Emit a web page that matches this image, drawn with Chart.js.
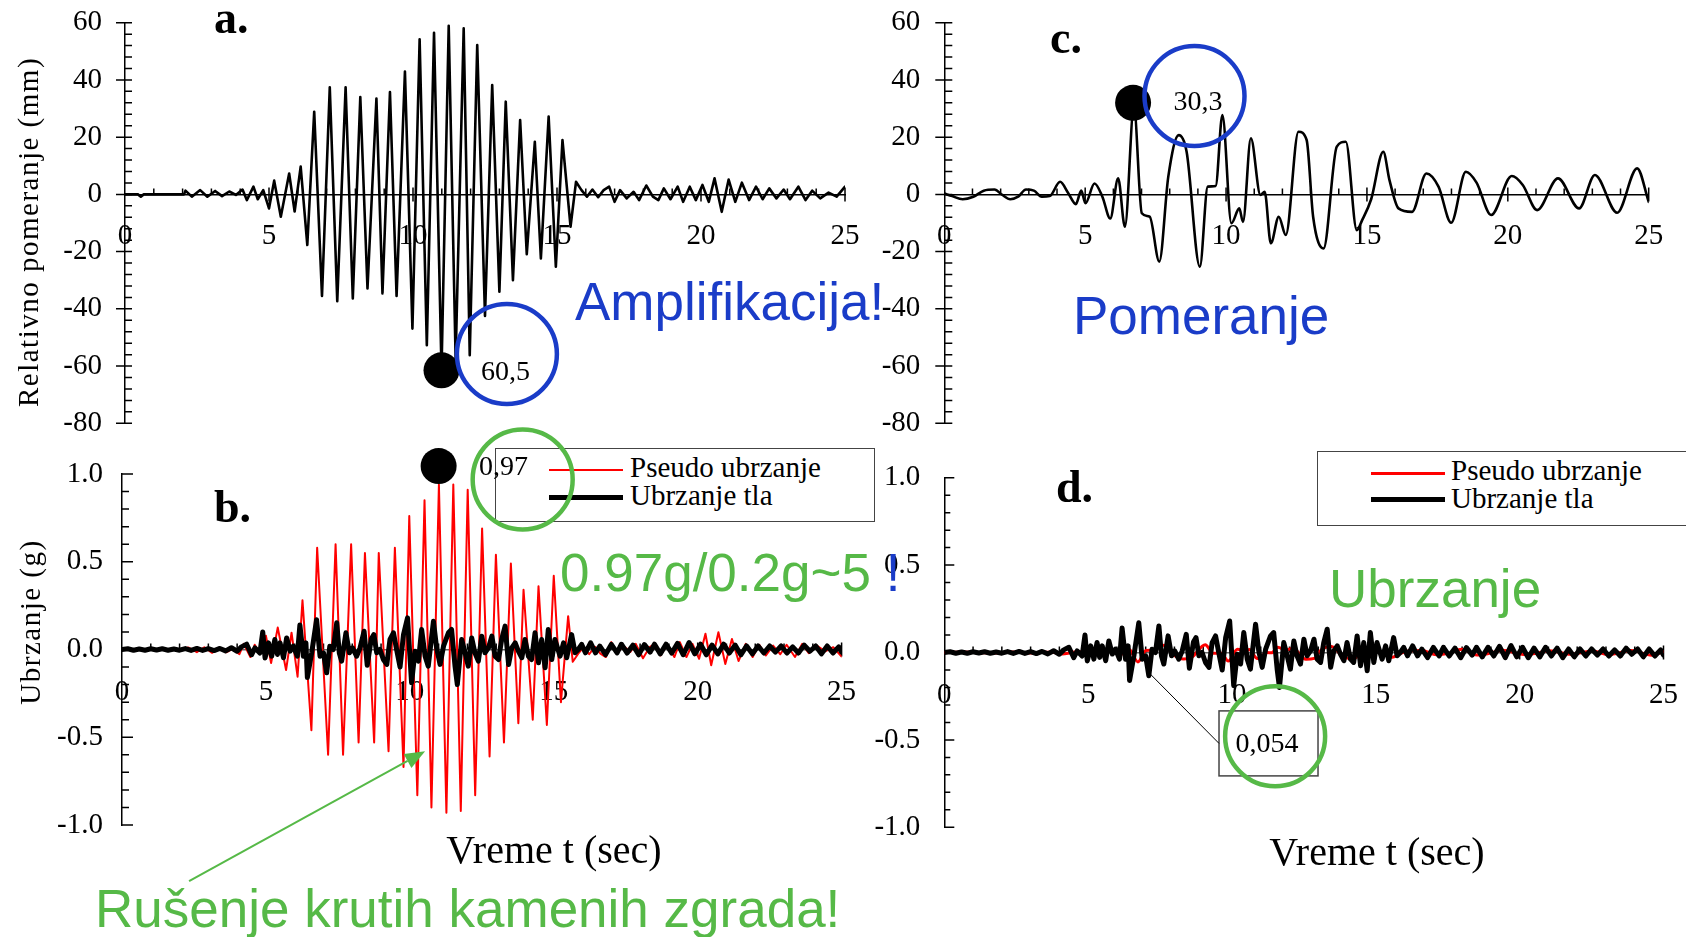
<!DOCTYPE html>
<html><head><meta charset="utf-8">
<script src="https://cdn.jsdelivr.net/npm/chart.js@4.4.1/dist/chart.umd.min.js"></script>
<style>
html,body{margin:0;padding:0;background:#fff;}
body{width:1686px;height:937px;overflow:hidden;position:relative;}
canvas{position:absolute;left:0;top:0;}
.t{position:absolute;white-space:nowrap;line-height:1;}
.serif{font-family:"Liberation Serif","Times New Roman",serif;color:#000;}
.sans{font-family:"Liberation Sans",Arial,sans-serif;font-size:53px;}
.blue{color:#1a3cc8;}
.green{color:#56b947;}
.bold{font-weight:bold;font-size:46px;}
.lab{font-size:28px;transform:translateX(-50%);}
.leg{font-size:29px;}
.box{position:absolute;border:1.5px solid #444;box-sizing:border-box;}
.ln{position:absolute;}
</style></head><body>

<!-- legends -->
<div class="box" style="left:495px;top:448px;width:380px;height:74px;"></div>
<div class="ln" style="left:549px;top:469px;width:74px;height:2px;background:#ff0000;"></div>
<div class="ln" style="left:549px;top:494.5px;width:74px;height:5px;background:#000;"></div>
<div class="t serif leg" style="left:630px;top:452.7px;">Pseudo ubrzanje</div>
<div class="t serif leg" style="left:630px;top:480.7px;">Ubrzanje tla</div>

<div class="box" style="left:1317px;top:451px;width:400px;height:75px;"></div>
<div class="ln" style="left:1371px;top:471.5px;width:74px;height:3px;background:#ff0000;"></div>
<div class="ln" style="left:1371px;top:496.5px;width:74px;height:5px;background:#000;"></div>
<div class="t serif leg" style="left:1451px;top:455.7px;">Pseudo ubrzanje</div>
<div class="t serif leg" style="left:1451px;top:483.7px;">Ubrzanje tla</div>

<canvas id="ca" width="1686" height="937"></canvas>
<canvas id="cb" width="1686" height="937"></canvas>
<canvas id="cc" width="1686" height="937"></canvas>
<canvas id="cd" width="1686" height="937"></canvas>

<!-- texts -->
<div class="t serif bold" style="left:214px;top:-5.5px;">a.</div>
<div class="t serif bold" style="left:214px;top:483.5px;">b.</div>
<div class="t serif bold" style="left:1050px;top:14.5px;">c.</div>
<div class="t serif bold" style="left:1056px;top:463.5px;">d.</div>

<div class="t serif" style="left:28px;top:232px;font-size:29px;letter-spacing:1.5px;transform:translate(-50%,-50%) rotate(-90deg);">Relativno pomeranje (mm)</div>
<div class="t serif" style="left:30px;top:622px;font-size:29px;letter-spacing:1.5px;transform:translate(-50%,-50%) rotate(-90deg);">Ubrzanje (g)</div>
<div class="t serif" style="left:554px;top:829.5px;font-size:40px;transform:translateX(-50%);">Vreme t (sec)</div>
<div class="t serif" style="left:1377px;top:831.5px;font-size:40px;transform:translateX(-50%);">Vreme t (sec)</div>

<div class="t serif lab" style="left:505.5px;top:356.5px;">60,5</div>
<div class="t serif lab" style="left:1198px;top:86.5px;">30,3</div>
<div class="t serif lab" style="left:503.5px;top:451.5px;">0,97</div>
<div class="t serif lab" style="left:1267px;top:728.5px;">0,054</div>

<div class="t sans blue" style="left:575px;top:275px;">Amplifikacija!</div>
<div class="t sans blue" style="left:1073px;top:289px;">Pomeranje</div>
<div class="t sans" style="left:560px;top:546px;"><span class="green">0.97g/0.2g~5</span><span class="blue"> !</span></div>
<div class="t sans green" style="left:1329px;top:562px;">Ubrzanje</div>
<div class="t sans green" style="left:95px;top:882px;">Rušenje krutih kamenih zgrada!</div>

<script>
// ---------------- DATA ----------------
const xTickVals = [0, 5, 10, 15, 20, 25];
const yTicksDisp = [60, 40, 20, 0, -20, -40, -60, -80];
const yTicksAcc = [1.0, 0.5, 0.0, -0.5, -1.0];

// a. relative displacement (mm), stiff system
const tA = [0,0.45,0.55,0.65,2.05,2.1,2.32,2.61,2.86,3.13,3.37,3.62,3.85,4.08,4.23,4.46,4.61,4.8,5.0,5.18,5.41,5.70,5.89,6.10,6.33,6.57,6.84,7.11,7.37,7.66,7.91,8.17,8.42,8.73,8.94,9.20,9.43,9.72,9.98,10.23,10.48,10.73,10.99,11.24,11.48,11.76,11.97,12.23,12.50,12.75,13.0,13.22,13.47,13.72,13.95,14.23,14.44,14.71,14.96,15.19,15.47,15.66,15.85,16.04,16.23,16.43,16.62,16.81,17.0,17.19,17.42,17.66,17.85,18.1,18.33,18.52,18.71,18.94,19.19,19.38,19.61,19.82,20.05,20.27,20.47,20.72,20.96,21.19,21.42,21.67,21.91,22.14,22.37,22.62,22.87,23.09,23.38,23.63,23.86,24.14,24.43,24.71,25];
const dispA = [0,0,-0.8,0,0,1.3,-0.8,1.5,-0.8,1.2,-0.6,1.0,-0.2,1.7,-2.0,2.7,-1.7,1.5,-4.9,4.8,-7.8,7.3,-6.0,9.7,-17.7,28.9,-35.5,37.4,-37.3,37.4,-36.4,34.0,-32.9,33.5,-34.6,35.8,-35.5,42.9,-46.9,54.2,-52.7,56.5,-61.5,58.9,-57.5,58.0,-56.2,52.2,-42.5,38.2,-34.0,32.4,-30.0,26.0,-20.9,18.4,-22.4,27.2,-25.3,19.0,-11.3,4.4,1.5,-0.8,1.7,-1.0,1.5,2.7,-2.6,1.5,-1.4,0.9,-2.0,3.1,-0.8,-2.0,2.1,-1.7,2.7,-2.6,2.7,-2.0,3.3,-2.6,5.6,-6.1,5.2,-2.6,4.1,-2.0,2.7,-1.7,2.1,-1.4,1.7,-1.7,2.7,-2.0,1.3,-1.4,0.6,-0.8,2.7];
const peakA_t = [10.99], peakA_v = [-61.5];

// c. relative displacement (mm), flexible system
const tC = [0,0.28,0.65,1.03,1.4,1.78,2.06,2.34,2.62,2.9,3.18,3.46,3.74,4.11,4.39,4.67,4.86,5.01,5.33,5.61,5.89,6.17,6.41,6.73,7.01,7.29,7.63,7.95,8.32,8.6,9.07,9.35,9.63,9.87,10.19,10.47,10.6,10.88,11.22,11.37,11.59,11.87,12.12,12.57,12.86,13.09,13.46,13.93,14.25,14.64,14.83,15.15,15.58,15.8,16.12,16.6,17.11,17.54,17.99,18.51,18.89,19.41,20.14,20.53,21.04,21.78,22.53,23.09,23.88,24.59,25];
const dispC = [0.3,-0.6,-1.7,-0.8,1.3,1.7,-0.2,-1.7,-0.8,1.7,1.3,-0.8,-0.6,4.4,0.6,-3.4,1.3,-3.1,3.8,-0.8,-8.4,5.6,-11.3,30.6,-6.6,-7.8,-23.5,6.2,20.7,14.9,-25.3,2.7,2.9,27.7,-10.1,-4.9,-9.6,19.6,-0.2,0.9,-17.1,-7.8,-14.2,21.9,19,-7.8,-18.9,16.7,18.4,-12.5,-9,-1.7,14.9,5,-4.9,-6.1,7.3,2.7,-9.9,7.9,4.1,-7.2,6.4,3.3,-5.5,5.6,-4.9,6.8,-6.4,9.1,-2.6];
const peakC_t = [6.7], peakC_v = [32];

// b. pseudo acceleration (g), stiff system
const tBr = [0,0.5,1.0,1.5,2.0,2.3,2.6,2.86,3.13,3.37,3.62,3.85,4.08,4.23,4.46,4.61,4.8,5.0,5.18,5.41,5.70,5.89,6.10,6.27,6.58,6.78,7.16,7.42,7.68,7.96,8.22,8.44,8.76,8.92,9.26,9.48,9.78,9.98,10.26,10.51,10.75,11.01,11.27,11.51,11.77,12.01,12.27,12.51,12.77,12.99,13.27,13.51,13.77,13.95,14.27,14.47,14.76,15.0,15.25,15.5,15.66,15.85,16.04,16.23,16.43,16.62,16.81,17.0,17.19,17.42,17.66,17.85,18.1,18.33,18.52,18.71,18.94,19.19,19.38,19.61,19.82,20.05,20.27,20.47,20.72,20.96,21.19,21.42,21.67,21.91,22.14,22.37,22.62,22.87,23.09,23.38,23.63,23.86,24.14,24.43,24.71,25];
const pseudoB = [0,0.002,-0.002,0.003,-0.002,0.012,-0.015,0.013,-0.019,0.01,-0.016,0.003,-0.027,0.032,-0.043,0.027,-0.024,0.078,-0.077,0.125,-0.117,0.096,-0.155,0.28,-0.46,0.58,-0.60,0.60,-0.60,0.60,-0.53,0.55,-0.53,0.55,-0.58,0.58,-0.67,0.76,-0.83,0.85,-0.90,0.94,-0.93,0.94,-0.92,0.91,-0.83,0.69,-0.61,0.54,-0.53,0.49,-0.42,0.34,-0.40,0.36,-0.43,0.42,-0.30,0.19,-0.07,-0.024,0.013,-0.027,0.016,-0.024,-0.043,0.042,-0.024,0.022,-0.014,0.032,-0.05,0.013,0.032,-0.034,0.027,-0.043,0.042,-0.043,0.032,-0.053,0.09,-0.09,0.098,-0.083,0.06,-0.066,0.032,-0.043,0.027,-0.034,0.022,-0.027,0.027,-0.043,0.032,-0.021,0.022,-0.01,0.013,-0.04];
const peakB_t = [11.0], peakB_v = [1.045];

// ground acceleration (g), shared by b. and d.
const tG = [0,0.2,0.4,0.6,0.8,1.0,1.2,1.4,1.6,1.8,2.0,2.2,2.4,2.6,2.8,3.0,3.2,3.4,3.6,3.8,4.0,4.15,4.33,4.5,4.62,4.79,4.89,4.97,5.09,5.2,5.31,5.4,5.49,5.61,5.72,5.84,5.95,6.09,6.18,6.3,6.39,6.44,6.59,6.76,6.88,7.0,7.11,7.22,7.34,7.46,7.55,7.63,7.78,7.9,8.01,8.15,8.27,8.41,8.52,8.66,8.75,8.85,8.96,9.08,9.2,9.31,9.43,9.54,9.66,9.78,9.92,10.06,10.18,10.3,10.41,10.53,10.64,10.82,10.93,11.05,11.17,11.34,11.45,11.57,11.65,11.8,11.92,12.03,12.15,12.26,12.38,12.5,12.61,12.73,12.85,12.96,13.08,13.19,13.31,13.43,13.54,13.66,13.77,13.89,14.0,14.12,14.23,14.35,14.47,14.58,14.7,14.81,14.93,15.04,15.22,15.34,15.45,15.62,15.74,15.85,15.97,16.1,16.28,16.45,16.6,16.8,17.0,17.2,17.35,17.55,17.75,17.95,18.15,18.35,18.5,18.7,18.9,19.1,19.3,19.5,19.7,19.9,20.1,20.3,20.5,20.7,20.9,21.1,21.3,21.5,21.7,21.9,22.1,22.3,22.5,22.7,22.9,23.1,23.3,23.5,23.7,23.9,24.1,24.3,24.5,24.7,24.9,25.0];
const groundAcc = [0,0.004,-0.004,0.003,-0.004,0.004,-0.003,0.004,-0.004,0.003,-0.004,0.005,-0.005,0.006,-0.005,0.005,-0.006,0.006,-0.008,0.01,-0.01,0.015,0.03,-0.03,0.009,-0.02,0.10,-0.048,0.038,-0.038,0.057,-0.028,0.038,-0.047,0.066,-0.009,0.019,-0.038,0.14,-0.038,0.038,-0.16,-0.019,0.17,-0.038,-0.02,-0.133,0.019,0.0,0.152,-0.02,-0.066,0.095,-0.019,0.009,-0.038,0.009,0.104,-0.09,0.06,0.085,-0.019,0.0,-0.057,-0.085,0.057,0.095,0.0,-0.10,0.085,0.18,-0.19,-0.01,-0.066,0.114,-0.038,-0.095,0.161,0.01,-0.085,0.019,0.095,0.114,-0.095,-0.2,0.057,-0.019,-0.095,0.066,-0.019,-0.066,0.076,-0.019,0.009,0.076,-0.038,-0.057,0.057,0.133,-0.085,0.009,0.038,-0.009,-0.047,0.057,-0.038,-0.057,0.095,-0.076,0.057,-0.104,0.114,-0.057,0.057,-0.038,0.038,-0.047,0.085,-0.019,0.0,0.029,-0.019,0.038,-0.019,0.019,-0.029,0.029,-0.019,0.03,-0.02,0.025,-0.03,0.028,-0.015,0.03,-0.025,0.03,-0.02,0.035,-0.03,0.04,-0.025,0.03,-0.03,0.025,-0.025,0.03,-0.02,0.025,-0.03,0.02,-0.025,0.02,-0.02,0.02,-0.015,0.02,-0.02,0.015,-0.02,0.025,-0.01,0.02,-0.025,0.02,-0.02,0.015,-0.015];

// d. pseudo acceleration (g), flexible system
const tDr = tC;
const pseudoD = [-0.001,0.001,0.003,0.001,-0.002,-0.003,0,0.003,0.001,-0.003,-0.002,0.001,0.001,-0.008,-0.001,0.006,-0.002,0.006,-0.007,0.001,0.015,-0.010,0.020,-0.054,0.012,0.014,0.042,-0.011,-0.037,-0.027,0.045,-0.005,-0.005,-0.049,0.018,0.009,0.017,-0.035,0,-0.002,0.030,0.014,0.025,-0.039,-0.034,0.014,0.034,-0.030,-0.033,0.022,0.016,0.003,-0.027,-0.009,0.009,0.011,-0.013,-0.005,0.018,-0.014,-0.007,0.013,-0.011,-0.006,0.010,-0.010,0.009,-0.012,0.011,-0.016,0.005];

// ---------------- RENDER ----------------
const BLUE = '#1a3cc8', GREEN = '#56b947';
const SERIF = '"Liberation Serif","Times New Roman",serif';
Chart.defaults.font.family = SERIF;
Chart.defaults.color = '#000';

const pts = (t, v) => { const n = Math.min(t.length, v.length); const r = []; for (let i = 0; i < n; i++) r.push({x: t[i], y: v[i]}); return r; };

const deco = {
  id: 'deco',
  beforeDatasetsDraw(chart, args, o) {
    const {ctx, scales: {x, y}, chartArea} = chart;
    const x0 = chartArea.left;
    const y0 = y.getPixelForValue(0);
    ctx.save();
    ctx.strokeStyle = '#000';
    ctx.lineWidth = 1.5;
    ctx.beginPath();
    const nY = Math.round((y.max - y.min) / o.yMinor);
    for (let i = 0; i <= nY; i++) {
      const v = y.min + i * o.yMinor;
      const p = y.getPixelForValue(v);
      const major = o.yMajor.some(m => Math.abs(m - v) < 1e-6);
      ctx.moveTo(x0 - (major ? o.yMajL : 0), p);
      ctx.lineTo(x0 + (major ? o.yMajR : o.yMinR), p);
    }
    const nX = Math.round((x.max - x.min) / o.xMinor);
    for (let i = 1; i <= nX; i++) {
      const v = x.min + i * o.xMinor;
      const p = x.getPixelForValue(v);
      const major = xTickVals.some(m => Math.abs(m - v) < 1e-6);
      ctx.moveTo(p, y0 - (major ? 7 : 6));
      ctx.lineTo(p, y0 + (major ? 7 : 0));
    }
    ctx.stroke();
    ctx.restore();
  },
  afterDatasetsDraw(chart, args, o) {
    const {ctx, scales: {x, y}} = chart;
    ctx.save();
    if (o.box) {
      const bx = x.getPixelForValue(o.box.x), by = y.getPixelForValue(o.box.y);
      ctx.strokeStyle = '#444'; ctx.lineWidth = 1.5;
      ctx.fillStyle = '#fff';
      ctx.fillRect(bx - o.box.w / 2, by - o.box.h / 2, o.box.w, o.box.h);
      ctx.strokeRect(bx - o.box.w / 2, by - o.box.h / 2, o.box.w, o.box.h);
      if (o.box.from) {
        ctx.strokeStyle = '#000'; ctx.lineWidth = 1;
        ctx.beginPath();
        ctx.moveTo(x.getPixelForValue(o.box.from[0]), y.getPixelForValue(o.box.from[1]));
        ctx.lineTo(bx - o.box.w / 2, by);
        ctx.stroke();
      }
    }
    (o.circles || []).forEach(c => {
      ctx.strokeStyle = c.color; ctx.lineWidth = 4.5;
      ctx.beginPath();
      ctx.ellipse(x.getPixelForValue(c.x), y.getPixelForValue(c.y), c.r, c.r, 0, 0, Math.PI * 2);
      ctx.stroke();
    });
    if (o.arrow) {
      const x1 = x.getPixelForValue(o.arrow.from[0]), y1 = y.getPixelForValue(o.arrow.from[1]);
      const x2 = x.getPixelForValue(o.arrow.to[0]), y2 = y.getPixelForValue(o.arrow.to[1]);
      const a = Math.atan2(y2 - y1, x2 - x1);
      const L = 20, W = 8;
      ctx.strokeStyle = o.arrow.color; ctx.fillStyle = o.arrow.color; ctx.lineWidth = 2;
      ctx.beginPath(); ctx.moveTo(x1, y1);
      ctx.lineTo(x2 - L * Math.cos(a), y2 - L * Math.sin(a)); ctx.stroke();
      ctx.beginPath();
      ctx.moveTo(x2, y2);
      ctx.lineTo(x2 - L * Math.cos(a) + W * Math.sin(a), y2 - L * Math.sin(a) - W * Math.cos(a));
      ctx.lineTo(x2 - L * Math.cos(a) - W * Math.sin(a), y2 - L * Math.sin(a) + W * Math.cos(a));
      ctx.closePath(); ctx.fill();
    }
    ctx.restore();
  }
};

function makeChart(id, p) {
  return new Chart(document.getElementById(id), {
    type: 'line',
    data: { datasets: p.datasets },
    options: {
      responsive: false, animation: false, events: [], devicePixelRatio: 1,
      layout: { padding: p.padding },
      plugins: { legend: { display: false }, tooltip: { enabled: false }, deco: p.deco },
      elements: { point: { radius: 0 }, line: { tension: 0, borderJoinStyle: 'round', borderCapStyle: 'round' } },
      scales: {
        x: {
          type: 'linear', min: 0, max: 25, position: { y: 0 },
          afterBuildTicks: s => { s.ticks = xTickVals.map(v => ({ value: v })); },
          afterFit: s => { s.paddingLeft = 0; s.paddingRight = 0; s.paddingTop = 0; s.paddingBottom = 0; },
          ticks: { font: { family: SERIF, size: 29 }, color: '#000', padding: 25, autoSkip: false, maxRotation: 0, callback: v => String(v) },
          grid: { display: true, drawOnChartArea: false, drawTicks: false, color: 'rgba(0,0,0,0)' },
          border: { display: true, color: p.zeroColor, width: 1.5 }
        },
        y: {
          type: 'linear', min: p.yMin, max: p.yMax, position: 'left',
          afterBuildTicks: s => { s.ticks = p.yTicks.map(v => ({ value: v })); },
          afterFit: s => { s.width = 100; s.paddingTop = 0; s.paddingBottom = 0; s.paddingLeft = 0; s.paddingRight = 0; },
          ticks: { font: { family: SERIF, size: 29 }, color: '#000', padding: p.yPad, autoSkip: false, callback: p.fmt },
          grid: { display: true, drawOnChartArea: false, drawTicks: false, color: 'rgba(0,0,0,0)' },
          border: { display: true, color: '#000', width: 1.5 }
        }
      }
    },
    plugins: [deco]
  });
}

const dot = (t, v) => ({ data: pts(t, v), showLine: false, pointRadius: 18, pointBackgroundColor: '#000', pointBorderWidth: 0, clip: false, order: 0 });

// a.
makeChart('ca', {
  padding: { left: 25, right: 841, top: 22.7, bottom: 513.7 },
  yMin: -80, yMax: 60, yTicks: yTicksDisp, yPad: 23, fmt: v => String(v), zeroColor: '#000',
  deco: { yMajor: yTicksDisp, yMinor: 4, yMajL: 9, yMajR: 7, yMinR: 7, xMinor: 1,
          circles: [{ x: 13.26, y: -55.8, r: 50, color: BLUE }] },
  datasets: [
    { data: pts(tA, dispA), borderColor: '#000', borderWidth: 2.6, order: 1 },
    dot(peakA_t, peakA_v)
  ]
});
// c.
makeChart('cc', {
  padding: { left: 844.3, right: 37.3, top: 22.7, bottom: 513.7 },
  yMin: -80, yMax: 60, yTicks: yTicksDisp, yPad: 24, fmt: v => String(v), zeroColor: '#000',
  deco: { yMajor: yTicksDisp, yMinor: 4, yMajL: 9, yMajR: 8, yMinR: 8, xMinor: 1,
          circles: [{ x: 8.88, y: 34.35, r: 50, color: BLUE }] },
  datasets: [
    { data: pts(tC, dispC), borderColor: '#000', borderWidth: 2.6, cubicInterpolationMode: 'monotone', order: 1 },
    dot(peakC_t, peakC_v)
  ]
});
// b.
makeChart('cb', {
  padding: { left: 22, right: 844.4, top: 474, bottom: 112 },
  yMin: -1, yMax: 1, yTicks: yTicksAcc, yPad: 19, fmt: v => v.toFixed(1), zeroColor: '#666',
  deco: { yMajor: yTicksAcc, yMinor: 0.1, yMajL: 0, yMajR: 11, yMinR: 7, xMinor: 1,
          circles: [{ x: 13.92, y: 0.969, r: 50, color: GREEN }],
          arrow: { from: [2.33, -1.32], to: [10.53, -0.58], color: GREEN } },
  datasets: [
    { data: pts(tBr, pseudoB), borderColor: '#ff0000', borderWidth: 2, order: 2 },
    { data: pts(tG, groundAcc), borderColor: '#000', borderWidth: 5, order: 1 },
    dot(peakB_t, peakB_v)
  ]
});
// d.
makeChart('cd', {
  padding: { left: 844.3, right: 22.5, top: 477.7, bottom: 109.7 },
  yMin: -1, yMax: 1, yTicks: yTicksAcc, yPad: 24, fmt: v => v.toFixed(1), zeroColor: '#666',
  deco: { yMajor: yTicksAcc, yMinor: 0.1, yMajL: 0, yMajR: 10, yMinR: 6, xMinor: 1,
          box: { x: 11.27, y: -0.52, w: 99, h: 65, from: [7.14, -0.12] },
          circles: [{ x: 11.5, y: -0.479, r: 50, color: GREEN }] },
  datasets: [
    { data: pts(tDr, pseudoD), borderColor: '#ff0000', borderWidth: 3, cubicInterpolationMode: 'monotone', order: 2 },
    { data: pts(tG, groundAcc), borderColor: '#000', borderWidth: 5, order: 1 }
  ]
});
</script>
</body></html>
